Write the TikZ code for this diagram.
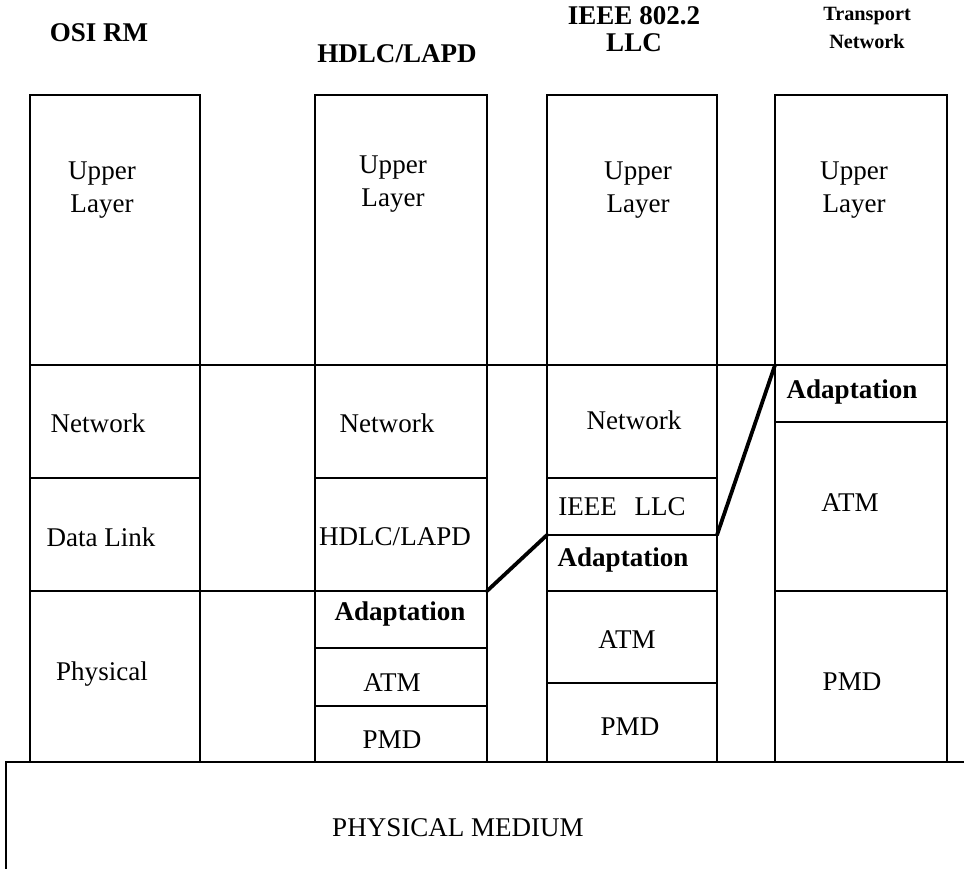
\documentclass[tikz,border=0pt]{standalone}
\usepackage{fontspec}
\setmainfont{Liberation Serif}
\usepackage{tikz}
\usetikzlibrary{arrows.meta}
\tikzset{layer/.style={font=\fontsize{10}{12.5}\selectfont, align=center, inner sep=0pt}}
\tikzset{adapt/.style={layer, font=\bfseries\fontsize{10}{12.5}\selectfont}}
\tikzset{head/.style={font=\bfseries\fontsize{10}{10}\selectfont, align=center, inner sep=0pt}}
\tikzset{smallhead/.style={font=\bfseries\fontsize{7.5}{10.7}\selectfont, align=center, inner sep=0pt}}
\tikzset{boundary/.style={line width=1.4pt, line cap=round}}

\begin{document}
\begin{tikzpicture}[x=0.37pt, y=-0.37pt, line width=0.6pt]
  \useasboundingbox (0,0) rectangle (964,869);

  \node[head] (osiHead) at (99,33) {OSI RM};
  \node[head] (hdlcHead) at (397,54) {HDLC/LAPD};
  \node[head] (llcHead) at (634,29) {IEEE 802.2\\LLC};
  \node[smallhead] (tnHead) at (867,28) {Transport\\Network};

  \draw (30,762) -- (30,95) -- (200,95) -- (200,762);
  \draw (315,762) -- (315,95) -- (487,95) -- (487,762);
  \draw (547,762) -- (547,95) -- (717,95) -- (717,762);
  \draw (775,762) -- (775,95) -- (947,95) -- (947,762);
  \draw (30,365) -- (947,365);
  \draw (6,869) -- (6,762) -- (964,762);

  \draw (30,478) -- (200,478);
  \draw (30,591) -- (200,591);
  \draw (315,478) -- (487,478);
  \draw (315,591) -- (487,591);
  \draw (315,648) -- (487,648);
  \draw (315,706) -- (487,706);
  \draw (547,478) -- (717,478);
  \draw (547,535) -- (717,535);
  \draw (547,591) -- (717,591);
  \draw (547,683) -- (717,683);
  \draw (775,422) -- (947,422);
  \draw (775,591) -- (947,591);

  \node[layer] (osiUp) at (102,190) {Upper\\Layer};
  \node[layer] (osiNet) at (98,423) {Network};
  \node[layer] (osiDL) at (101,537) {Data Link};
  \node[layer] (osiPhy) at (102,674) {Physical};

  \node[layer] (hdlcUp) at (393,184) {Upper\\Layer};
  \node[layer] (hdlcNet) at (387,423) {Network};
  \node[layer] (hdlcDL) at (395,537) {HDLC/LAPD};
  \node[adapt] (hdlcAd) at (400,614) {Adaptation};
  \node[layer] (hdlcATM) at (392,683) {ATM};
  \node[layer] (hdlcPMD) at (392,740) {PMD};

  \node[layer] (llcUp) at (638,190) {Upper\\Layer};
  \node[layer] (llcNet) at (634,420) {Network};
  \node[layer] (llcLLC) at (622,507) {IEEE\hspace{6.5pt}LLC};
  \node[adapt] (llcAd) at (623,560) {Adaptation};
  \node[layer] (llcATM) at (627,640) {ATM};
  \node[layer] (llcPMD) at (630,727) {PMD};

  \node[layer] (tnUp) at (854,190) {Upper\\Layer};
  \node[adapt] (tnAd) at (852,392) {Adaptation};
  \node[layer] (tnATM) at (850,503) {ATM};
  \node[layer] (tnPMD) at (852,682) {PMD};

  \node[layer] (medium) at (458,828) {PHYSICAL MEDIUM};

  \coordinate (osiTop) at (200,591);
  \coordinate (hdlcL) at (315,591);
  \coordinate (hdlcR) at (487,591);
  \coordinate (llcL) at (547,535);
  \coordinate (llcR) at (717,535);
  \coordinate (tnL) at (775,365);

  \draw[boundary, line width=1pt] (osiTop) -- (hdlcL);
  \draw[boundary] (hdlcR) -- (llcL);
  \draw[boundary] (llcR) -- (tnL);
\end{tikzpicture}
\end{document}
